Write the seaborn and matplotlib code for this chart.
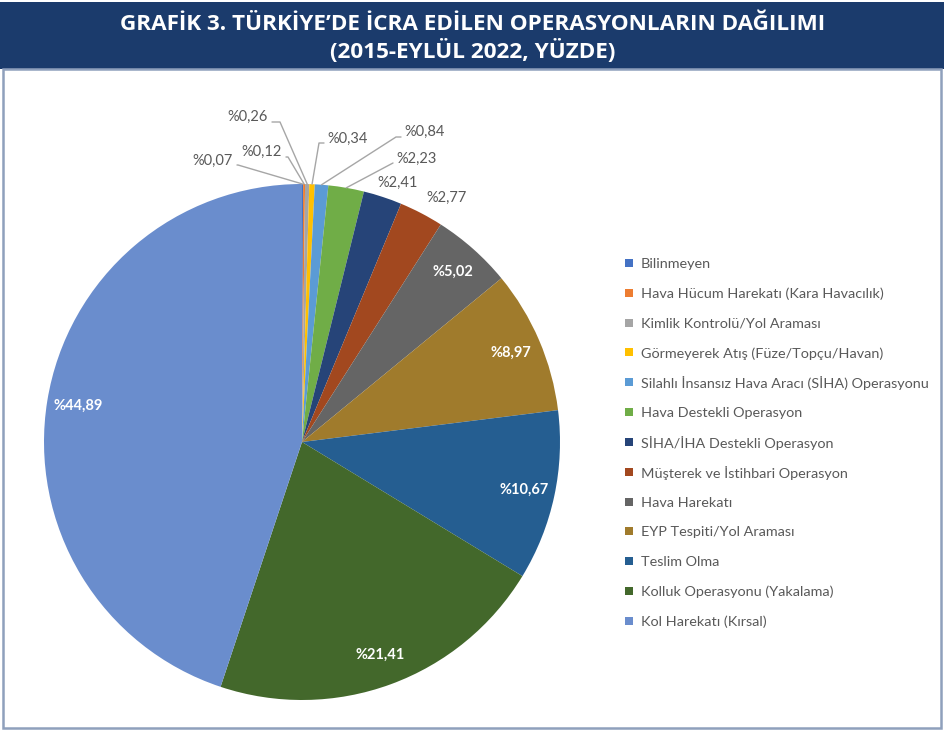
import numpy as np
import matplotlib
matplotlib.use("Agg")
import matplotlib.pyplot as plt
from matplotlib.patches import Rectangle
from matplotlib.lines import Line2D
import seaborn as sns

# data (percent, 2015 - Sep 2022)
categories = [
    "Bilinmeyen",
    "Hava Hücum Harekatı (Kara Havacılık)",
    "Kimlik Kontrolü/Yol Araması",
    "Görmeyerek Atış (Füze/Topçu/Havan)",
    "Silahlı İnsansız Hava Aracı (SİHA) Operasyonu",
    "Hava Destekli Operasyon",
    "SİHA/İHA Destekli Operasyon",
    "Müşterek ve İstihbari Operasyon",
    "Hava Harekatı",
    "EYP Tespiti/Yol Araması",
    "Teslim Olma",
    "Kolluk Operasyonu (Yakalama)",
    "Kol Harekatı (Kırsal)",
]
shares = [0.07, 0.12, 0.26, 0.34, 0.84, 2.23, 2.41, 2.77, 5.02, 8.97, 10.67, 21.41, 44.89]
colors = ["#4472C4", "#ED7D31", "#A5A5A5", "#FFC000", "#5B9BD5", "#70AD47",
          "#264478", "#A2481F", "#656565", "#A07B2C", "#255E91", "#43682B", "#6A8DCD"]

sns.set_style("white")
plt.rcParams['font.family'] = ['Lato', 'DejaVu Sans']
palette = sns.color_palette(colors)

W, H = 945, 730
fig = plt.figure(figsize=(W / 100, H / 100), dpi=100)
fig.patch.set_facecolor("white")

def fx(px):
    return px / W

def fy(py):
    return 1 - py / H

# header band + frame
fig.patches.append(Rectangle((0, fy(69)), 1, fy(2) - fy(69), transform=fig.transFigure,
                             facecolor="#1b3b6c", edgecolor="none", zorder=0))
fig.patches.append(Rectangle((fx(3), fy(728)), fx(941) - fx(3), fy(69) - fy(728),
                             transform=fig.transFigure, facecolor="none",
                             edgecolor="#8fa0bc", linewidth=1.8, zorder=0))
title_kw = dict(ha="center", va="center", color="white", fontweight="bold",
                fontsize=16.2, family=["Open Sans", "DejaVu Sans"])
fig.text(fx(473), fy(24), "GRAFİK 3. TÜRKİYE’DE İCRA EDİLEN OPERASYONLARIN DAĞILIMI", **title_kw)
fig.text(fx(473), fy(51), "(2015-EYLÜL 2022, YÜZDE)", **title_kw)

# pie
cx, cy, R = 302, 442, 258
ax = fig.add_axes([fx(cx - R), fy(cy + R), 2 * R / W, 2 * R / H])
wedges, _ = ax.pie(shares, colors=palette, startangle=90, counterclock=False,
                   radius=1, wedgeprops=dict(linewidth=0))
ax.set_xlim(-1, 1)
ax.set_ylim(-1, 1)
ax.axis("off")

def lab(v):
    return "%" + f"{v:.2f}".replace(".", ",")

def to_data(px, py):
    return (px - cx) / R, (cy - py) / R

# big slices: labels inside
for w, v in zip(wedges, shares):
    if v < 5:
        continue
    a = np.deg2rad((w.theta1 + w.theta2) / 2)
    ax.text(0.88 * np.cos(a), 0.88 * np.sin(a), lab(v), ha="center", va="center",
            color="white", fontweight="bold", fontsize=10.5)

# small slices: labels outside (text pos, elbow pos in pixels; None = no leader)
outside = {
    0: ((213, 161), (238, 165)),
    1: ((262, 152), (288, 157)),
    2: ((248, 117), (280, 122)),
    3: ((348, 139), (319, 143)),
    4: ((425, 132), (396, 137)),
    5: ((417, 159), (393, 163)),
    6: ((398, 183), None),
    7: ((447, 198), None),
}
for i, (tp, ep) in outside.items():
    w = wedges[i]
    tx, ty = to_data(*tp)
    ax.text(tx, ty, lab(shares[i]), ha="center", va="center", color="#595959", fontsize=10.5)
    if ep is not None:
        a = np.deg2rad((w.theta1 + w.theta2) / 2)
        ex, ey = to_data(*ep)
        sx = tx + (30 if ep[0] > tp[0] else -30) / R * 0.8
        ax.add_line(Line2D([sx, ex, np.cos(a)], [ey, ey, np.sin(a)], color="#a6a6a6",
                           linewidth=1, clip_on=False))

# legend, drawn row by row so the pitch matches
row0, pitch = 263, 29.83
for i, (c, name) in enumerate(zip(palette, categories)):
    yc = row0 + i * pitch
    fig.patches.append(Rectangle((fx(625), fy(yc + 4)), 8 / W, 8 / H,
                                 transform=fig.transFigure, facecolor=c, edgecolor="none"))
    fig.text(fx(641), fy(yc), name, ha="left", va="center_baseline", color="#595959",
             fontsize=10.4)

fig.savefig("out.png", dpi=100)
